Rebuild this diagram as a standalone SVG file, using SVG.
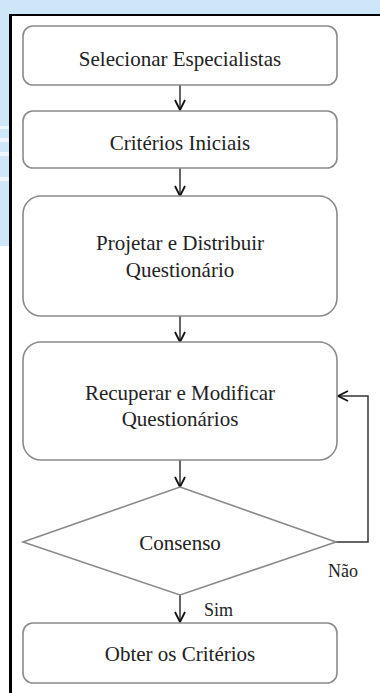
<svg xmlns="http://www.w3.org/2000/svg" width="380" height="693" viewBox="0 0 380 693">
<defs>
<style>
.box{fill:#fff;stroke:#8a8a8a;stroke-width:1.6}
.t{font-size:21px;fill:#222;text-anchor:middle}
.lbl{font-size:18px;fill:#222}
.c{fill:none;stroke:#333;stroke-width:1.5}
</style>
<marker id="ah" viewBox="0 0 12 12" refX="11" refY="6" markerWidth="12" markerHeight="12" markerUnits="userSpaceOnUse" orient="auto">
<path d="M1,1 L11,6 L1,11" fill="none" stroke="#111" stroke-width="1.8"/>
</marker>
</defs>
<rect x="0" y="0" width="380" height="693" fill="#fff"/>
<rect x="0" y="0" width="380" height="15" fill="#cde6f8"/>
<rect x="0" y="0" width="10" height="246" fill="#cde6f8"/>
<g fill="#eef6fc">
<rect x="0" y="126" width="10" height="3"/>
<rect x="0" y="138" width="10" height="4"/>
<rect x="0" y="152" width="10" height="4"/>
<rect x="0" y="177" width="10" height="4"/>
</g>
<rect x="10" y="14" width="370" height="2" fill="#000"/>
<rect x="9" y="14" width="3" height="679" fill="#000"/>

<g font-family="'Liberation Serif', 'Times New Roman', Times, serif">
<g id="connectors">
<line class="c" x1="180" y1="85" x2="180" y2="110" marker-end="url(#ah)"/>
<line class="c" x1="180" y1="168" x2="180" y2="196" marker-end="url(#ah)"/>
<line class="c" x1="180" y1="316" x2="180" y2="342" marker-end="url(#ah)"/>
<line class="c" x1="180" y1="460" x2="180" y2="487" marker-end="url(#ah)"/>
<line class="c" x1="180" y1="595" x2="180" y2="622" marker-end="url(#ah)"/>
<polyline class="c" points="336,542 368,542 368,396 338,396" marker-end="url(#ah)"/>
<text class="lbl" x="204" y="616">Sim</text>
<text class="lbl" x="328" y="577">Não</text>
</g>

<g id="n1">
<rect class="box" x="23" y="26" width="314" height="59" rx="10"/>
<text class="t" x="180" y="66">Selecionar Especialistas</text>
</g>
<g id="n2">
<rect class="box" x="23" y="111" width="314" height="57" rx="10"/>
<text class="t" x="180" y="150">Critérios Iniciais</text>
</g>
<g id="n3">
<rect class="box" x="23" y="196" width="314" height="120" rx="18"/>
<text class="t" x="180" y="250">Projetar e Distribuir</text>
<text class="t" x="180" y="277">Questionário</text>
</g>
<g id="n4">
<rect class="box" x="23" y="342" width="314" height="118" rx="18"/>
<text class="t" x="180" y="400">Recuperar e Modificar</text>
<text class="t" x="180" y="426">Questionários</text>
</g>
<g id="n5">
<polygon class="box" points="180,487 336,542 180,595 23,542"/>
<text class="t" x="180" y="550">Consenso</text>
</g>
<g id="n6">
<rect class="box" x="23" y="623" width="314" height="60" rx="10"/>
<text class="t" x="180" y="661">Obter os Critérios</text>
</g>
</g>
</svg>
